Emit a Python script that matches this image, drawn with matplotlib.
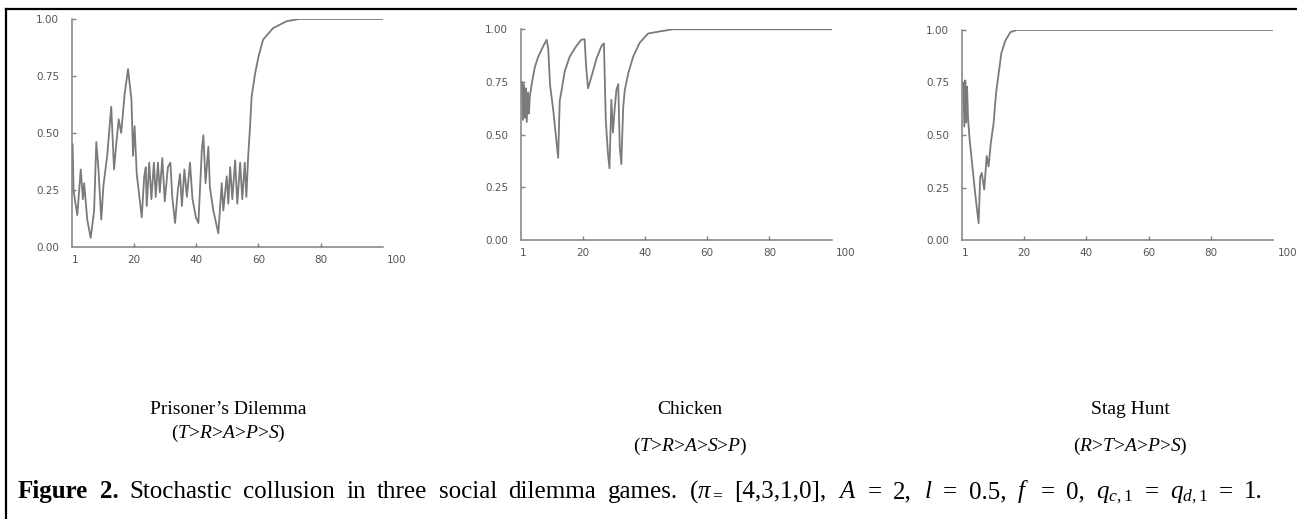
import matplotlib
matplotlib.use("Agg")
import matplotlib.pyplot as plt
from matplotlib.lines import Line2D
from matplotlib.transforms import ScaledTranslation

plt.rcParams['mathtext.fontset'] = 'custom'
plt.rcParams['mathtext.rm'] = 'Liberation Serif'
plt.rcParams['mathtext.it'] = 'Liberation Serif:italic'
plt.rcParams['mathtext.bf'] = 'Liberation Serif:bold'

# ---- data ----
pd_t = [0.3, 0.6, 1.0, 1.8, 2.9, 3.6, 4.0, 5.0, 6.1, 7.2, 7.9, 8.6, 9.5, 10.2, 11.4, 12.7,
        13.6, 14.3, 15.1, 15.9, 17.0, 18.1, 19.2, 19.7, 20.2, 20.9, 22.5, 23.3, 23.8, 24.1,
        24.9, 25.6, 26.4, 27.0, 27.7, 28.3, 29.1, 29.9, 30.9, 31.7, 32.3, 33.2, 34.1, 34.8,
        35.4, 36.2, 37.0, 38.0, 38.8, 39.9, 40.7, 41.8, 42.3, 43.0, 43.9, 44.4, 45.5, 47.1,
        48.2, 48.7, 49.8, 50.3, 50.9, 51.6, 52.5, 53.2, 54.1, 54.8, 55.6, 56.1, 56.7, 57.3,
        57.8, 58.9, 60.0, 61.5, 64.7, 69.0, 73.0, 100.0]
pd_v = [0.45, 0.25, 0.21, 0.14, 0.34, 0.21, 0.28, 0.12, 0.04, 0.16, 0.46, 0.34, 0.12, 0.27, 0.40, 0.615,
        0.34, 0.45, 0.56, 0.50, 0.67, 0.78, 0.645, 0.40, 0.53, 0.32, 0.13, 0.31, 0.35, 0.18,
        0.37, 0.21, 0.37, 0.22, 0.37, 0.24, 0.39, 0.20, 0.35, 0.37, 0.22, 0.105, 0.25, 0.32,
        0.18, 0.34, 0.22, 0.37, 0.21, 0.13, 0.105, 0.425, 0.49, 0.28, 0.44, 0.26, 0.16, 0.06,
        0.28, 0.16, 0.31, 0.19, 0.35, 0.21, 0.38, 0.19, 0.37, 0.21, 0.37, 0.22, 0.40, 0.53,
        0.66, 0.76, 0.835, 0.91, 0.96, 0.99, 1.0, 1.0]

ch_t = [0.5, 0.8, 1.1, 1.4, 1.7, 2.0, 2.4, 2.7, 3.0, 3.6, 4.6, 5.7, 7.3, 8.4, 8.9, 9.5, 10.5,
        12.1, 12.6, 13.2, 14.2, 15.8, 17.9, 19.5, 20.6, 21.1, 21.7, 22.8, 24.4, 26.0, 26.8,
        27.0, 27.4, 28.1, 28.6, 29.2, 29.7, 30.3, 30.8, 31.4, 31.9, 32.4, 33.0, 33.5, 34.6,
        36.2, 38.3, 41.0, 44.8, 49.0, 100.0]
ch_v = [0.75, 0.57, 0.74, 0.58, 0.72, 0.56, 0.70, 0.60, 0.68, 0.74, 0.82, 0.87, 0.92, 0.95, 0.91, 0.735, 0.62,
        0.39, 0.66, 0.71, 0.80, 0.87, 0.92, 0.95, 0.953, 0.82, 0.72, 0.775, 0.86, 0.92, 0.933,
        0.82, 0.57, 0.41, 0.34, 0.665, 0.51, 0.63, 0.71, 0.74, 0.44, 0.36, 0.63, 0.71, 0.79,
        0.87, 0.936, 0.98, 0.99, 1.0, 1.0]

sh_t = [0.5, 0.8, 1.1, 1.4, 1.7, 2.0, 2.5, 3.2, 4.3, 5.4, 5.9, 6.4, 7.2, 8.0, 8.6, 9.3, 10.2,
        11.0, 11.8, 12.7, 14.0, 15.6, 17.7, 100.0]
sh_v = [0.75, 0.54, 0.76, 0.56, 0.73, 0.58, 0.48, 0.38, 0.22, 0.08, 0.30, 0.32, 0.24, 0.40, 0.35, 0.46, 0.555,
        0.70, 0.79, 0.89, 0.95, 0.99, 1.0, 1.0]

x_ticks = [1, 20, 40, 60, 80, 100]
y_ticks = [0.0, 0.25, 0.5, 0.75, 1.0]
y_labels = ["0.00", "0.25", "0.50", "0.75", "1.00"]

titles = ["Prisoner\u2019s Dilemma", "Chicken", "Stag Hunt"]
orders = [r"($T$>$R$>$A$>$P$>$S$)", r"($T$>$R$>$A$>$S$>$P$)", r"($R$>$T$>$A$>$P$>$S$)"]

caption_words = [("Figure", "bold"), ("2.", "bold"), ("Stochastic", "normal"), ("collusion", "normal"),
                 ("in", "normal"), ("three", "normal"), ("social", "normal"), ("dilemma", "normal"),
                 ("games.", "normal"), (r"($\pi_{=}$", "normal"), ("[4,3,1,0],", "normal"),
                 (r"$A$", "normal"), ("=", "normal"), ("2,", "normal"), (r"$l$", "normal"),
                 ("=", "normal"), ("0.5,", "normal"), (r"$f$", "normal"), ("=", "normal"),
                 ("0,", "normal"), (r"$q_{c,1}$", "normal"), ("=", "normal"), (r"$q_{d,1}$", "normal"),
                 ("=", "normal"), ("1.", "normal")]

W, H = 1297, 519
fig = plt.figure(figsize=(W / 100, H / 100), dpi=100)

# axes boxes in pixels: left, top, right, bottom
boxes = [(71.7, 19, 383, 247), (520.5, 29.3, 831.7, 240), (961.8, 30, 1273.3, 240)]
series = [(pd_t, pd_v), (ch_t, ch_v), (sh_t, sh_v)]
line_col = '#7a7a7a'
axis_col = '#808080'
lab_col = '#555555'

for (l, t, r, b), (xs, ys) in zip(boxes, series):
    ax = fig.add_axes([l / W, (H - b) / H, (r - l) / W, (b - t) / H])
    ax.plot(xs, ys, color=line_col, lw=1.3)
    ax.set_xlim(0, 100)
    ax.set_ylim(0, 1)
    for s in ['top', 'right']:
        ax.spines[s].set_visible(False)
    for s in ['left', 'bottom']:
        ax.spines[s].set_color(axis_col)
        ax.spines[s].set_linewidth(1.1)
    ax.set_xticks(x_ticks)
    ax.set_xticklabels([str(v) for v in x_ticks])
    ax.set_yticks(y_ticks)
    ax.set_yticklabels(y_labels)
    ax.tick_params(direction='in', length=3, width=1, color=axis_col,
                   labelsize=7.5, labelcolor=lab_col)
    ax.tick_params(axis='x', pad=6)
    ax.tick_params(axis='y', pad=9)
    xt = ax.xaxis.get_major_ticks()
    xt[0].tick1line.set_visible(False)
    xt[-1].tick1line.set_visible(False)
    yt = ax.yaxis.get_major_ticks()
    yt[0].tick1line.set_visible(False)
    lab = ax.get_xticklabels()[-1]
    lab.set_transform(lab.get_transform() + ScaledTranslation(14 / 100, 0, fig.dpi_scale_trans))
    ax.patch.set_visible(False)

# captions under panels
cx = [228, 690, 1130]
oy = [433, 446, 446]
for c, ti, od, y2 in zip(cx, titles, orders, oy):
    fig.text(c / W, 1 - 410 / H, ti, ha='center', va='center', fontsize=14,
             family='Liberation Serif')
    fig.text(c / W, 1 - y2 / H, od, ha='center', va='center', fontsize=14,
             family='Liberation Serif')

# figure caption, spread between x=18 and x=1263 px
cap_fs = 18
texts = []
for w, wt in caption_words:
    texts.append(fig.text(0, 0.5, w, ha='left', va='baseline', fontsize=cap_fs,
                          family='Liberation Serif', fontweight=wt))
fig.canvas.draw()
rend = fig.canvas.get_renderer()
widths = [tx.get_window_extent(rend).width for tx in texts]
x0, x1 = 18.0, 1263.0
gap = (x1 - x0 - sum(widths)) / (len(texts) - 1)
x = x0
for tx, wd in zip(texts, widths):
    tx.set_position((x / W, 1 - 498 / H))
    x += wd + gap

# frame lines (top and left)
fig.add_artist(Line2D([6 / W, 1], [1 - 9 / H, 1 - 9 / H], color='black', lw=1.6))
fig.add_artist(Line2D([6 / W, 6 / W], [0, 1 - 9 / H], color='black', lw=1.6))

fig.savefig("out.png", dpi=100)
